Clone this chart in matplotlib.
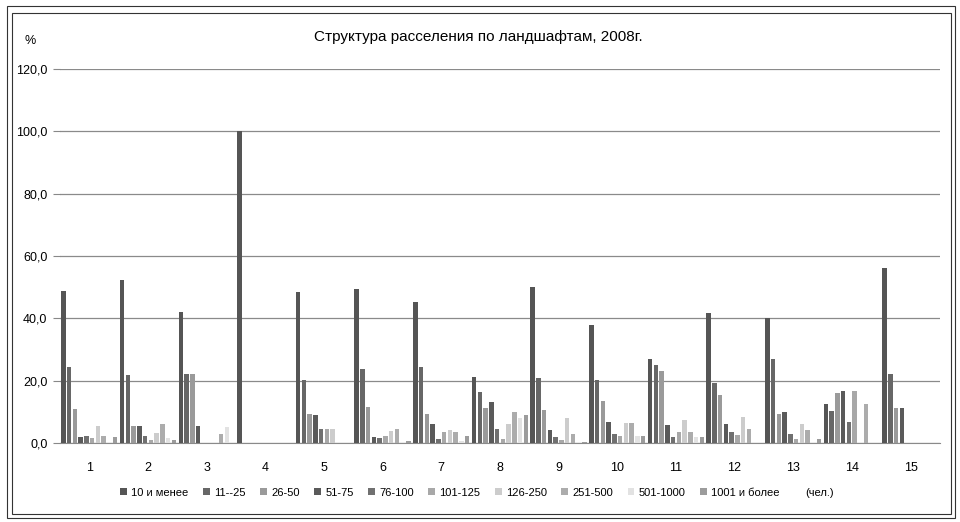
import matplotlib
matplotlib.use("Agg")
import matplotlib.pyplot as plt
import numpy as np
from matplotlib.patches import Rectangle, Patch

plt.rcParams['font.family'] = ['Liberation Sans', 'DejaVu Sans']

# landscapes 1..15
groups = [str(i) for i in range(1, 16)]

series_names = ["10 и менее", "11--25", "26-50", "51-75", "76-100",
                "101-125", "126-250", "251-500", "501-1000", "1001 и более"]

s_10 = [48.7, 52.2, 41.9, 100.0, 48.5, 49.4, 45.2, 21.2, 50.0, 37.8, 26.8, 41.8, 40.1, 12.4, 56.0]
s_11_25 = [24.4, 21.7, 22.0, 0, 20.2, 23.6, 24.3, 16.4, 20.7, 20.3, 25.0, 19.1, 26.8, 10.2, 22.1]
s_26_50 = [10.8, 5.3, 22.0, 0, 9.2, 11.6, 9.2, 11.3, 10.6, 13.5, 23.2, 15.4, 9.2, 16.1, 11.3]
s_51_75 = [1.8, 5.3, 5.6, 0, 9.0, 2.0, 6.1, 13.2, 4.2, 6.7, 5.8, 6.2, 9.9, 16.8, 11.3]
s_76_100 = [2.3, 2.1, 0, 0, 4.5, 1.6, 1.2, 4.4, 1.8, 2.8, 1.8, 3.4, 2.8, 6.8, 0]
s_101_125 = [1.5, 1.1, 0, 0, 4.5, 2.2, 3.4, 1.2, 1.0, 2.2, 3.5, 2.6, 1.2, 16.8, 0]
s_126_250 = [5.6, 3.2, 0, 0, 4.4, 3.7, 4.2, 6.2, 8.1, 6.5, 7.3, 8.4, 6.0, 0, 0]
s_251_500 = [2.3, 6.1, 2.8, 0, 0, 4.4, 3.4, 10.0, 2.9, 6.5, 3.5, 4.5, 4.3, 12.4, 0]
s_501_1000 = [0, 1.5, 5.2, 0, 0, 0, 0.5, 8.1, 0, 2.2, 1.8, 0, 0, 0, 0]
s_1001 = [1.8, 1.1, 0, 0, 0, 0.6, 2.3, 9.0, 0.3, 2.4, 1.8, 0, 1.2, 0, 0]

series = [s_10, s_11_25, s_26_50, s_51_75, s_76_100,
          s_101_125, s_126_250, s_251_500, s_501_1000, s_1001]
colors = ["#555555", "#676767", "#9a9a9a", "#5a5a5a", "#707070",
          "#a8a8a8", "#cccccc", "#acacac", "#e2e2e2", "#9c9c9c"]

yticks = [0, 20, 40, 60, 80, 100, 120]

fig = plt.figure(figsize=(9.6, 5.22), dpi=100)
ax = fig.add_axes([0.0625, 0.1513, 0.9165, 0.717])

x = np.arange(len(groups))
n = len(series)
slot = 0.98 / n
for i, (vals, c) in enumerate(zip(series, colors)):
    ax.bar(x - 0.49 + slot * (i + 0.5), vals, width=slot * 0.78,
           color=c, label=series_names[i], zorder=3)

ax.set_xlim(-0.5, len(groups) - 0.5)
ax.set_ylim(0, 120)
ax.set_yticks(yticks)
ax.set_yticklabels([f"{v:.1f}".replace(".", ",") for v in yticks], fontsize=9)
ax.set_xticks(x)
ax.set_xticklabels(groups, fontsize=9)
ax.tick_params(axis='x', length=0, pad=14)
ax.tick_params(axis='y', length=5, color="#888888", pad=4)
ax.yaxis.grid(True, color="#8a8a8a", linewidth=0.9, zorder=0)
for sp in ["top", "right", "left"]:
    ax.spines[sp].set_visible(False)
ax.spines["bottom"].set_color("#8a8a8a")

fig.text(0.026, 0.915, "%", fontsize=9)
fig.text(0.498, 0.93, "Структура расселения по ландшафтам, 2008г.",
         fontsize=11, ha="center", va="center")

handles, labels = ax.get_legend_handles_labels()
handles.append(Patch(facecolor="none", edgecolor="none"))
labels.append("(чел.)")
fig.legend(handles, labels, loc="center", bbox_to_anchor=(0.497, 0.056),
           ncol=11, frameon=False, fontsize=8, handlelength=0.6,
           handleheight=0.6, handletextpad=0.4, columnspacing=1.3)

# double frame around the chart
fig.add_artist(Rectangle((0.0075, 0.008), 0.987, 0.981, transform=fig.transFigure,
                         fill=False, edgecolor="#333333", linewidth=0.8))
fig.add_artist(Rectangle((0.0125, 0.015), 0.978, 0.96, transform=fig.transFigure,
                         fill=False, edgecolor="#333333", linewidth=0.8))

fig.savefig("out.png", dpi=100)
